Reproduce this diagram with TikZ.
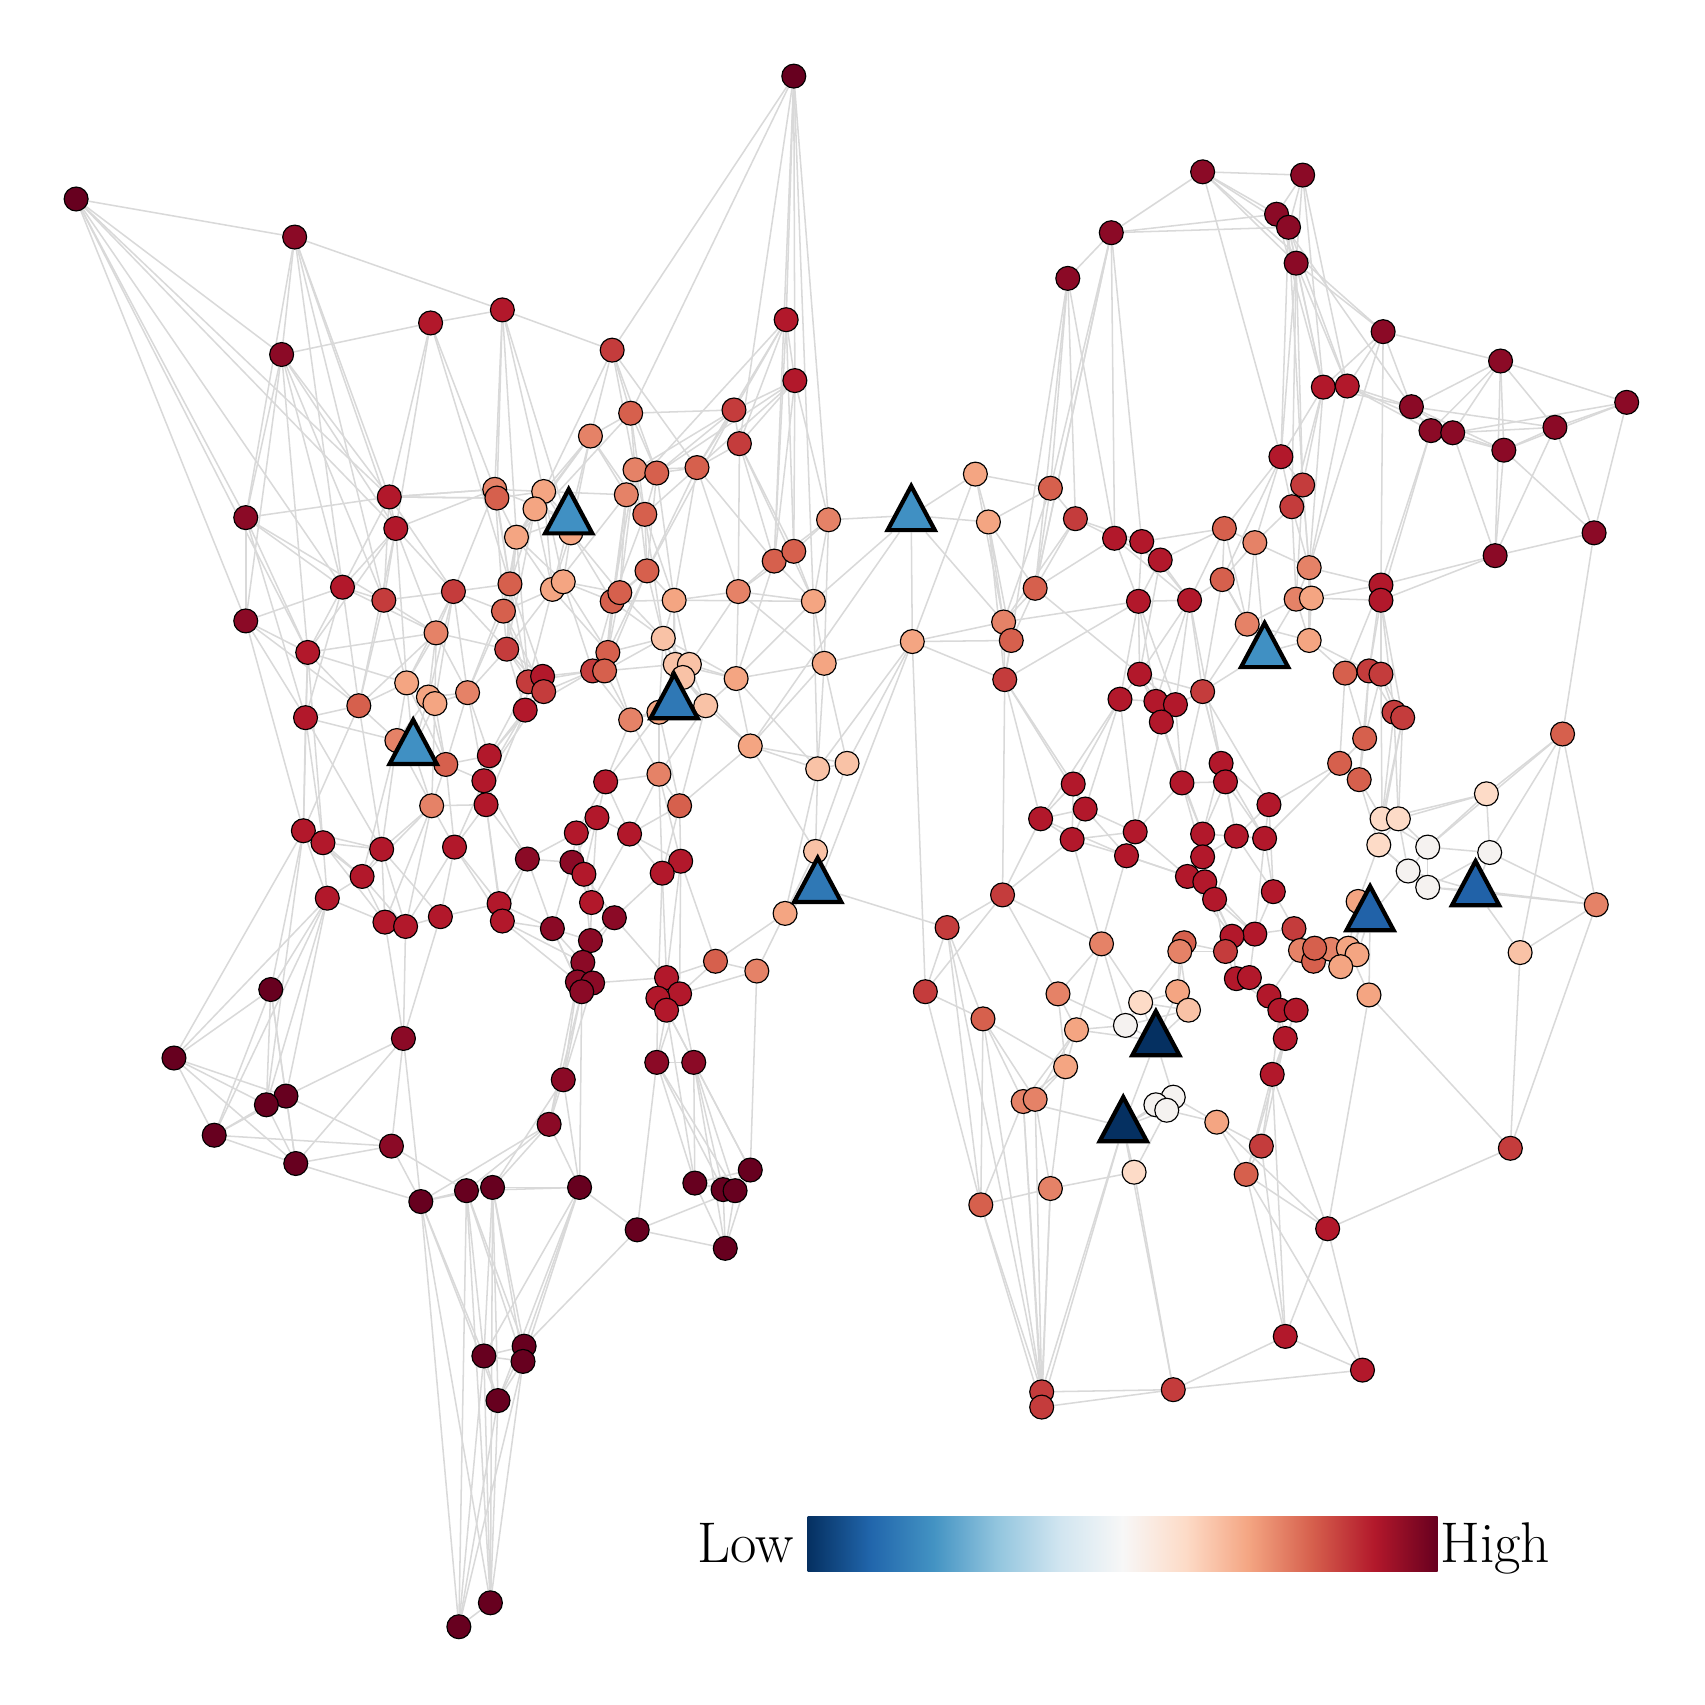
\documentclass[tikz,border=0pt]{standalone}
\usepackage{tikz}
\usetikzlibrary{shapes.geometric}

% node colours (high -> low)
\definecolor{r9}{HTML}{67001F}
\definecolor{r8}{HTML}{8B0A26}
\definecolor{r7}{HTML}{B2182B}
\definecolor{r6}{HTML}{C43C3C}
\definecolor{r5}{HTML}{D6604D}
\definecolor{r4}{HTML}{E58267}
\definecolor{r3}{HTML}{F4A582}
\definecolor{r2}{HTML}{F9C2A6}
\definecolor{r1}{HTML}{FDDBC7}
\definecolor{r0}{HTML}{F5F2F0}
\definecolor{b1}{HTML}{4090C3}
\definecolor{b2}{HTML}{2F78B5}
\definecolor{b3}{HTML}{2162A8}
\definecolor{b4}{HTML}{053061}

% colour bar
\definecolor{cb0}{HTML}{053061}
\definecolor{cb1}{HTML}{2166AC}
\definecolor{cb2}{HTML}{4393C3}
\definecolor{cb3}{HTML}{92C5DE}
\definecolor{cb4}{HTML}{D1E5F0}
\definecolor{cb5}{HTML}{F7F7F7}
\definecolor{cb6}{HTML}{FDDBC7}
\definecolor{cb7}{HTML}{F4A582}
\definecolor{cb8}{HTML}{D6604D}
\definecolor{cb9}{HTML}{B2182B}
\definecolor{cb10}{HTML}{67001F}
\pgfdeclarehorizontalshading{rdbu}{100bp}{color(0bp)=(cb0); color(25bp)=(cb0);
  color(30bp)=(cb1); color(35bp)=(cb2); color(40bp)=(cb3); color(45bp)=(cb4);
  color(50bp)=(cb5); color(55bp)=(cb6); color(60bp)=(cb7); color(65bp)=(cb8);
  color(70bp)=(cb9); color(75bp)=(cb10); color(100bp)=(cb10)}

\pgfdeclarelayer{bg}
\pgfsetlayers{bg,main}

\tikzset{
  vtx/.style={circle, draw=black, line width=0.3pt, minimum size=0.22cm, inner sep=0pt},
  hub/.style={regular polygon, regular polygon sides=3, draw=black, line width=1.1pt,
    minimum size=0.5cm, inner sep=0pt, yscale=1.08},
  link/.style={draw=black!15, line width=0.4pt},
  lbl/.style={font=\fontsize{15}{18}\selectfont, inner sep=0pt}
}

\begin{document}
\begin{tikzpicture}[x=0.01cm, y=-0.01cm]
	\useasboundingbox (0,0) rectangle (1568,1568);

	% Knoten links
	\foreach \i/\px/\py/\col in {
		1/730/70/r9, 2/70/183/r9, 3/271/218/r8, 4/396/297/r7, 5/462/285/r7, 6/259/326/r8,
		7/563/322/r6, 8/723/294/r7, 9/731/350/r7, 10/675/377/r6, 11/580/380/r5, 12/543/401/r4,
		13/680/408/r6, 14/455/450/r4, 15/457/458/r5, 16/500/452/r3, 17/492/468/r3, 18/584/432/r4,
		19/604/435/r5, 20/641/430/r5, 21/576/455/r4, 22/593/473/r5, 23/358/457/r7, 24/364/486/r7,
		25/226/476/r8, 26/475/494/r3, 27/525/490/r3, 28/469/537/r5, 29/508/542/r3, 30/518/535/r3,
		31/463/562/r5, 32/595/525/r5, 33/315/540/r7, 34/353/552/r6, 35/417/544/r6, 36/226/571/r8,
		37/563/553/r5, 38/570/545/r5, 39/620/552/r3, 40/679/544/r4, 41/712/516/r5, 42/730/507/r5,
		43/762/478/r4, 44/748/553/r3, 45/283/600/r7, 46/401/582/r4, 47/466/597/r6, 48/559/600/r5,
		49/545/617/r6, 50/556/617/r5, 51/610/587/r2, 52/486/627/r6, 53/499/622/r7, 54/500/636/r6,
		55/621/611/r2, 56/634/611/r2, 57/628/623/r2, 58/677/624/r3, 59/758/610/r3, 60/374/628/r3,
		61/394/641/r3, 62/400/647/r3, 63/430/637/r4, 64/330/649/r5, 65/281/660/r7, 66/483/653/r7,
		67/580/662/r4, 68/606/655/r3, 69/649/649/r2, 70/365/681/r4, 71/410/703/r5, 72/450/695/r7,
		73/445/718/r7, 74/690/686/r3, 75/752/707/r2, 76/779/702/r2, 77/557/719/r7, 78/606/712/r4,
		79/397/741/r4, 80/447/740/r7, 81/625/741/r5, 82/549/752/r7, 83/579/767/r7, 84/530/766/r7,
		85/279/764/r7, 86/297/775/r7, 87/351/781/r7, 88/418/779/r7, 89/333/806/r7, 90/485/790/r8,
		91/526/793/r8, 92/537/804/r7, 93/626/792/r7, 94/609/803/r7, 95/750/783/r2, 96/301/826/r7,
		97/459/831/r7, 98/544/830/r7, 99/462/847/r7, 100/354/848/r7, 101/373/852/r7, 102/405/843/r7,
		103/565/844/r8, 104/508/854/r8, 105/543/865/r8, 106/722/840/r3, 107/536/885/r8, 108/531/903/r8,
		109/545/904/r8, 110/535/912/r8, 111/658/884/r5, 112/696/893/r4, 113/613/899/r7, 114/625/914/r7,
		115/605/918/r7, 116/613/929/r7, 117/249/910/r9, 118/160/973/r9, 119/371/955/r8, 120/518/993/r8,
		121/604/977/r8, 122/638/977/r8, 123/263/1008/r9, 124/245/1016/r9, 125/197/1044/r9, 126/505/1034/r8,
		127/360/1054/r8, 128/272/1070/r9, 129/690/1076/r9, 130/639/1088/r9, 131/665/1094/r9, 132/676/1095/r9,
		133/387/1105/r9, 134/429/1095/r9, 135/453/1092/r9, 136/533/1092/r9, 137/586/1131/r9, 138/667/1148/r9,
		139/482/1238/r9, 140/445/1247/r9, 141/481/1252/r9, 142/458/1288/r9, 143/451/1474/r9, 144/422/1496/r9}
		\node[vtx, fill=\col] (n\i) at (\px,\py) {};

	% Knoten Mitte und rechts
	\foreach \i/\px/\py/\col in {
		145/897/436/r3, 146/909/480/r3, 147/966/449/r5, 148/989/477/r6, 149/952/541/r5, 150/923/572/r4,
		151/930/589/r5, 152/839/590/r3, 153/924/625/r6,
		154/1106/158/r8, 155/1198/161/r8, 156/1174/197/r8, 157/1185/209/r8, 158/1022/214/r8, 159/982/256/r8,
		160/1192/242/r8, 161/1272/305/r8, 162/1380/332/r8, 163/1496/370/r8, 164/1217/356/r7, 165/1239/355/r7,
		166/1298/374/r8, 167/1316/396/r8, 168/1336/398/r8, 169/1430/393/r8, 170/1383/414/r8, 171/1178/420/r7,
		172/1198/446/r6, 173/1188/466/r6, 174/1466/490/r8, 175/1375/511/r8, 176/1025/495/r7, 177/1050/498/r7,
		178/1067/515/r7, 179/1126/486/r5, 180/1154/499/r4, 181/1124/533/r5, 182/1204/522/r4, 183/1192/551/r4,
		184/1206/550/r3, 185/1270/538/r7, 186/1270/552/r7, 187/1047/553/r7, 188/1094/552/r7, 189/1147/574/r4,
		190/1204/589/r3, 191/1237/619/r5, 192/1259/617/r6, 193/1270/620/r6, 194/1048/620/r7, 195/1030/643/r7,
		196/1063/645/r7, 197/1081/648/r7, 198/1068/664/r7, 199/1106/636/r6, 200/1282/655/r6, 201/1290/660/r6,
		202/1255/679/r5, 203/1437/675/r5, 204/1232/702/r5, 205/1123/702/r7, 206/1250/717/r5, 207/1127/719/r7,
		208/1087/720/r7, 209/987/721/r7, 210/1367/730/r1, 211/998/744/r7, 212/1167/740/r7, 213/957/753/r7,
		214/1271/753/r1, 215/1286/753/r1, 216/1106/767/r7, 217/1137/769/r7, 218/1163/771/r7, 219/1044/765/r7,
		220/986/772/r7, 221/1268/777/r1, 222/1313/779/r0, 223/1370/784/r0, 224/1106/788/r7, 225/1036/787/r7,
		226/1295/801/r0, 227/1313/816/r0, 228/1092/806/r7, 229/1108/811/r7, 230/1117/827/r7, 231/1171/820/r7,
		232/922/823/r6, 233/1249/829/r3, 234/1468/832/r4, 235/1190/854/r6, 236/1154/859/r7, 237/1133/861/r7,
		238/1127/875/r6, 239/871/853/r6, 240/1013/868/r4, 241/1089/867/r5, 242/1085/875/r4, 243/1196/874/r4,
		244/1208/884/r5, 245/1224/873/r4, 246/1209/872/r5, 247/1240/872/r3, 248/1248/878/r3, 249/1233/889/r3,
		250/1398/876/r2, 251/1137/900/r7, 252/1149/899/r7, 253/1167/916/r7, 254/1177/929/r7, 255/1192/929/r7,
		256/1259/915/r3, 257/851/912/r6, 258/973/914/r4, 259/1049/922/r1, 260/1083/912/r3, 261/1093/929/r2,
		262/1035/943/r0, 263/904/937/r5, 264/990/947/r3, 265/1182/955/r7, 266/1170/988/r7, 267/980/981/r3,
		268/941/1013/r4, 269/952/1011/r4, 270/1079/1009/r0, 271/1063/1016/r0, 272/1073/1021/r0, 273/1119/1032/r3,
		274/1160/1054/r6, 275/1389/1056/r6, 276/1146/1080/r5, 277/1043/1078/r1, 278/966/1093/r4, 279/902/1108/r5,
		280/1221/1130/r7, 281/1182/1229/r7, 282/1253/1260/r7, 283/1079/1278/r6, 284/958/1280/r6, 285/958/1294/r6}
		\node[vtx, fill=\col] (n\i) at (\px,\py) {};

	% Dreiecke
	\foreach \i/\px/\py/\col in {
		301/523/477/b1, 302/838/474/b1, 303/620/647/b2, 304/380/689/b1, 305/752/816/b2,
		306/1163/600/b1, 307/1260/842/b3, 308/1357/819/b3, 309/1063/957/b4, 310/1033/1036/b4}
		\node[hub, fill=\col] (n\i) at (\px,\py) {};

	% Kanten
	\begin{pgfonlayer}{bg}
	\foreach \a/\bs in {
		1/{8,9,13,7,41,43,44,11}, 2/{3,25,36,23,24,33,45,6}, 3/{5,6,23,24,25,33,34},
		4/{5,6,24,23,14,28}, 5/{7,14,16,26,27,15}, 6/{25,36,45,23,33,24,34},
		7/{11,12,18,19,20,16}, 8/{9,10,13,20,41,42,21}, 9/{10,13,41,42,43,19,20},
		10/{11,13,20,19,18,32}, 11/{12,18,19,22,26}, 12/{16,17,26,27,22,21,29},
		13/{20,41,42,44,40}, 14/{15,16,23,24,28,31,35,301}, 15/{16,23,26,28},
		16/{17,26,27,29,30,21,301}, 17/{26,28,29,47,301}, 18/{19,20,21,22,32,37,38},
		19/{20,22,32,39}, 20/{22,32,39,41,40}, 21/{22,37,38,48,29}, 22/{32,37,39,51},
		23/{24,14,15,33,34,35,25}, 24/{33,34,35,46,60,64,45}, 25/{36,33,34,45,65},
		26/{28,29,30,31,47,52,301}, 27/{29,30,37,38,301}, 28/{31,35,47,52,53,63},
		29/{30,31,47,52,48}, 30/{37,38,48,49}, 31/{47,35,63,52,54}, 32/{37,38,39,51,48,50},
		33/{34,36,45,46,64,65}, 34/{46,60,64,35}, 35/{46,60,61,62,63,47}, 36/{45,65,64,85},
		37/{38,48,49,50,51,39}, 38/{48,51}, 39/{51,55,56,40,44,303}, 40/{41,42,44,58,56,59},
		41/{42,43,44,58}, 42/{43,44}, 43/{44,59,302}, 44/{59,58,75,302},
		45/{46,64,65,60,85,86}, 46/{60,61,62,63,64,47}, 47/{52,53,54,63,66}, 48/{49,50,51,67},
		49/{50,52,53,54,66,67}, 50/{51,55,67}, 51/{55,56,57,58,68,303}, 52/{53,54,66,72},
		53/{54,66}, 54/{66,72,73}, 55/{56,57,58,68,69,303}, 56/{57,58,69,303}, 57/{68,69,74,303},
		58/{59,69,74,75}, 59/{75,76,152,74}, 60/{61,62,64,70,71,304}, 61/{62,63,70,71,304},
		62/{63,71,79,304}, 63/{72,73,71}, 64/{65,70,85,87}, 65/{70,85,86,87}, 66/{72,73,80},
		67/{68,77,78,303}, 68/{69,78,81,77,303}, 69/{74,78,81,303}, 70/{71,79,87,89,304},
		71/{72,73,79,88,304}, 72/{73,80}, 73/{80,88,90}, 74/{75,76,81,95,302}, 75/{76,95,106},
		76/{95}, 77/{78,82,83,84}, 78/{81,83,93,94}, 79/{80,87,88,89,100,101,304},
		80/{88,90,97,99}, 81/{83,93,94}, 82/{83,84,91,92,98}, 83/{93,94,98}, 84/{90,91,92,98},
		85/{86,87,89,96,117,118,124}, 86/{87,89,96,100}, 87/{89,100,101,102}, 88/{97,99,102,101},
		89/{96,100,101}, 90/{91,97,99,104}, 91/{92,98,104}, 92/{98,103,105}, 93/{94,111,113,114},
		94/{113,115,103}, 95/{106,305}, 96/{100,117,118,123,124,125}, 97/{99,104,102},
		98/{103,105}, 99/{104,107,108}, 100/{101,119}, 101/{119,102}, 102/{119},
		103/{105,107,113}, 104/{105,107,108,110}, 105/{107,109}, 106/{305,111,112},
		107/{108,109,110}, 108/{109,110,120,126}, 109/{110,113,120}, 110/{120,126,136},
		111/{112,113,114}, 112/{114,129}, 113/{114,115,116}, 114/{115,116,121,122},
		115/{116,121}, 116/{121,122,129,130}, 117/{118,123,124,125,128}, 118/{123,124,125,128},
		119/{127,123,128,133}, 120/{126,136,135}, 121/{122,137,130,131,132},
		122/{129,130,131,132,138}, 123/{124,125,127,128}, 124/{125,128}, 125/{127,128},
		126/{133,134,135,136}, 127/{128,133,134}, 128/{133}, 129/{130,131,132,138},
		130/{131,132,138}, 131/{132,138}, 132/{138,137}, 133/{134,135,140,142,143,144},
		134/{135,136,139,140,141,143,144}, 135/{136,139,140,141,142,143},
		136/{137,139,140,141,142}, 137/{138,139}, 139/{140,141,142}, 140/{141,142,143,144},
		141/{142,143,144}, 142/{143,144}, 143/{144},
		145/{146,147,150,152,302}, 146/{147,149,150,151,153,302}, 147/{148,149,150,159,158},
		148/{149,176,177,150}, 149/{150,151,159,176,158,194}, 150/{151,152,153,187,302},
		151/{152,153}, 152/{153,76,75,257,302}, 153/{209,213,211,232,187},
		305/{239,152}, 239/{257,263,232,279,284},
		154/{155,156,157,158,160,161,171}, 155/{156,157,160,164,165}, 156/{157,160,164,166},
		157/{160,164,165,171,172}, 158/{159,156,157,176,177,149}, 159/{148,153,176},
		160/{164,165,171,172,173,161}, 161/{164,165,166,162,182,185},
		162/{163,166,167,168,169,170,175}, 163/{169,170,174,168}, 164/{165,166,171,172,173,182},
		165/{166,167,168,182}, 166/{167,168,169,170}, 167/{168,170,185,186}, 168/{170,169,175},
		169/{170,174,175}, 170/{175,174}, 171/{172,173,179,180,181}, 172/{173,182,183,184},
		173/{180,182,183}, 174/{175,203}, 175/{185,186}, 176/{177,178,187,188},
		177/{178,179,187,188}, 178/{179,187,188,194}, 179/{180,181,188,189},
		180/{181,182,189,306}, 181/{188,189,199,306}, 182/{183,184,185,190},
		183/{184,189,190,306}, 184/{185,186,190}, 185/{186,191,192,193}, 186/{192,193,200,201},
		187/{188,194,195,196,197}, 188/{194,196,197,199,205}, 189/{306,199,190},
		190/{306,191,192}, 191/{192,193,202,204}, 192/{193,200,202,206}, 193/{200,201,202,214},
		194/{195,196,197,198,199}, 195/{196,209,211,213,219}, 196/{197,198,208},
		197/{198,199,208}, 198/{208,219,216}, 199/{205,207,208,212,306}, 200/{201,214,215},
		201/{214,215,221}, 202/{204,206}, 203/{210,222,223,234,250}, 204/{206,212,218},
		205/{207,212,216,217,218}, 206/{214,221}, 207/{208,216,217,218}, 208/{216,224,219},
		209/{211,213,220}, 210/{222,223,214,215}, 211/{213,219,220,225}, 212/{217,218,231},
		213/{220,225,232}, 214/{215,221,222}, 215/{221,222,226}, 216/{217,224,228,229},
		217/{218,224,230,231}, 218/{231,236}, 219/{220,225,228}, 220/{225,240,232},
		221/{226,227,233}, 222/{223,226,227}, 223/{227,308,234}, 224/{228,229,230},
		225/{228,240,229}, 226/{227,308,307}, 227/{308,234}, 228/{229,230,237},
		229/{230,237,236}, 230/{236,237,238}, 231/{235,236}, 232/{257,258,240},
		233/{307,247,248}, 234/{308,250,275}, 235/{236,243,244,246}, 236/{237,238,252},
		237/{238,251}, 238/{241,242,251}, 240/{258,259,262,264}, 241/{242,260},
		242/{260,261,259}, 243/{244,245,246,253}, 244/{245,246,249}, 245/{246,247,248,249},
		247/{248,249,256,307}, 248/{249,307}, 250/{308,275}, 251/{252,253,254},
		252/{253,254,255}, 253/{254,255,265}, 254/{255,265,266}, 255/{265,266},
		256/{275,280,307}, 257/{263,279}, 258/{264,267,262}, 259/{260,261,262,309},
		260/{261,309}, 261/{262,309}, 262/{309,264}, 263/{267,268,269,279,284},
		264/{267,268,269,309}, 265/{266,274,276}, 266/{274,276,280,281}, 267/{268,269,278},
		268/{269,284,285,279,310}, 269/{278,284}, 270/{271,272,309,310,273}, 271/{272,310},
		272/{273,310,277}, 273/{276,274,280}, 274/{276,281}, 275/{280}, 276/{280,281,282},
		277/{310,283,278}, 278/{284,285,279}, 279/{284,285}, 280/{281,282}, 281/{282,283},
		282/{283}, 283/{284,285,310}, 284/{285,310}, 285/{310}, 309/{310}}
		\foreach \b in \bs
			\draw[link] (n\a) -- (n\b);
	\end{pgfonlayer}

	% Farbskala
	\node[minimum width=5.79cm, minimum height=0.5cm, inner sep=0pt, shading=rdbu] (bar) at (1032.5,1420) {};
	\node[lbl, anchor=base east] (low) at (731,1437) {Low};
	\node[lbl, anchor=base west] (high) at (1324,1437) {High};
\end{tikzpicture}
\end{document}
